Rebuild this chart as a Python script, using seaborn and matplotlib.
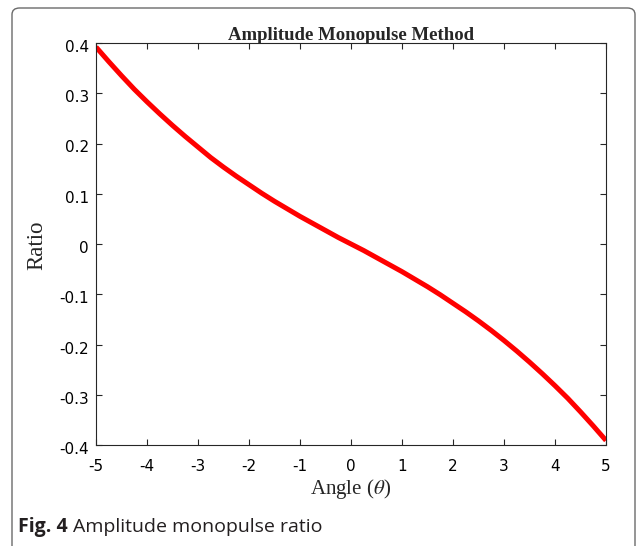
import numpy as np
import pandas as pd
import matplotlib
matplotlib.use("Agg")
import matplotlib.pyplot as plt
import matplotlib.transforms as mtransforms
from matplotlib.patches import FancyBboxPatch
import seaborn as sns

# ---- data ----
angle = [-5.0, -4.75, -4.5, -4.25, -4.0, -3.75, -3.5, -3.25, -3.0, -2.75,
         -2.5, -2.25, -2.0, -1.75, -1.5, -1.25, -1.0, -0.75, -0.5, -0.25,
         0.0, 0.25, 0.5, 0.75, 1.0, 1.25, 1.5, 1.75, 2.0, 2.25,
         2.5, 2.75, 3.0, 3.25, 3.5, 3.75, 4.0, 4.25, 4.5, 4.75, 5.0]
ratio = [0.392, 0.363, 0.335, 0.308, 0.283, 0.259, 0.236, 0.214, 0.193, 0.172,
         0.153, 0.135, 0.118, 0.101, 0.085, 0.070, 0.055, 0.041, 0.027, 0.013,
         0.0, -0.013, -0.027, -0.041, -0.055, -0.070, -0.085, -0.101, -0.118, -0.135,
         -0.153, -0.172, -0.192, -0.213, -0.235, -0.258, -0.282, -0.307, -0.334, -0.362, -0.391]
x_ticks = [-5, -4, -3, -2, -1, 0, 1, 2, 3, 4, 5]
y_ticks = [-0.4, -0.3, -0.2, -0.1, 0, 0.1, 0.2, 0.3, 0.4]
y_tick_labels = ["-0.4", "-0.3", "-0.2", "-0.1", "0", "0.1", "0.2", "0.3", "0.4"]
title = "Amplitude Monopulse Method"
x_label = r"Angle ($\theta$)"
y_label = "Ratio"
caption_bold = "Fig. 4"
caption_text = "Amplitude monopulse ratio"

df = pd.DataFrame({"angle": angle, "ratio": ratio})

sns.set_theme(style="ticks")
plt.rcParams["font.family"] = ["DejaVu Sans"]
plt.rcParams["axes.unicode_minus"] = False
plt.rcParams["mathtext.fontset"] = "stix"

W, H = 636, 546
fig = plt.figure(figsize=(W / 100, H / 100), dpi=100)
fig.patch.set_facecolor("white")

# outer rounded frame (open at the bottom)
frame = FancyBboxPatch((12 / W, -0.05), (635 - 12) / W, (546 - 8) / H + 0.05,
                       boxstyle="round,pad=0,rounding_size=0.012",
                       transform=fig.transFigure, fill=False,
                       edgecolor="#6a6a6a", linewidth=1.0, zorder=0)
fig.patches.append(frame)

ax = fig.add_axes([96 / W, 1 - 445 / H, (606 - 96) / W, (445 - 43) / H])
sns.lineplot(data=df, x="angle", y="ratio", ax=ax, color="#ff0000",
             linewidth=3.6, solid_capstyle="butt", solid_joinstyle="round")

ax.set_xlim(-5, 5)
ax.set_ylim(-0.4, 0.4)
ax.set_xticks(x_ticks)
ax.set_xticklabels([str(t) for t in x_ticks])
ax.set_yticks(y_ticks)
ax.set_yticklabels(y_tick_labels)
ax.tick_params(direction="in", length=4, width=0.8, colors="#262626",
               labelsize=11, top=True, right=True)
ax.tick_params(axis="x", pad=10)
ax.tick_params(axis="y", pad=5)
for lab in ax.get_xticklabels() + ax.get_yticklabels():
    lab.set_color("black")
off = mtransforms.ScaledTranslation(0, -3 / 100, fig.dpi_scale_trans)
for lab in ax.get_yticklabels():
    lab.set_transform(lab.get_transform() + off)
for s in ax.spines.values():
    s.set_visible(True)
    s.set_color("#262626")
    s.set_linewidth(0.8)

ax.set_xlabel("")
ax.set_ylabel("")

fig.text(351 / W, 1 - 40 / H, title, ha="center", va="baseline",
         family="Liberation Serif", fontweight="bold", fontsize=13.5)
fig.text(351 / W, 1 - 494 / H, x_label, ha="center", va="baseline",
         family="Liberation Serif", fontsize=15)
fig.text(37 / W, 1 - 245 / H, y_label, ha="center", va="center", rotation=90,
         family="Liberation Serif", fontsize=16.5)

t1 = fig.text(18 / W, 1 - 532 / H, caption_bold, ha="left", va="baseline",
              family="Open Sans", fontweight="bold", fontsize=14, color="#231f20")
fig.canvas.draw()
bb = t1.get_window_extent(renderer=fig.canvas.get_renderer())
fig.text((bb.x1 + 5) / W, 1 - 532 / H, caption_text, ha="left", va="baseline",
         family="Open Sans", fontsize=14, color="#231f20")

fig.savefig("out.png", dpi=100)
